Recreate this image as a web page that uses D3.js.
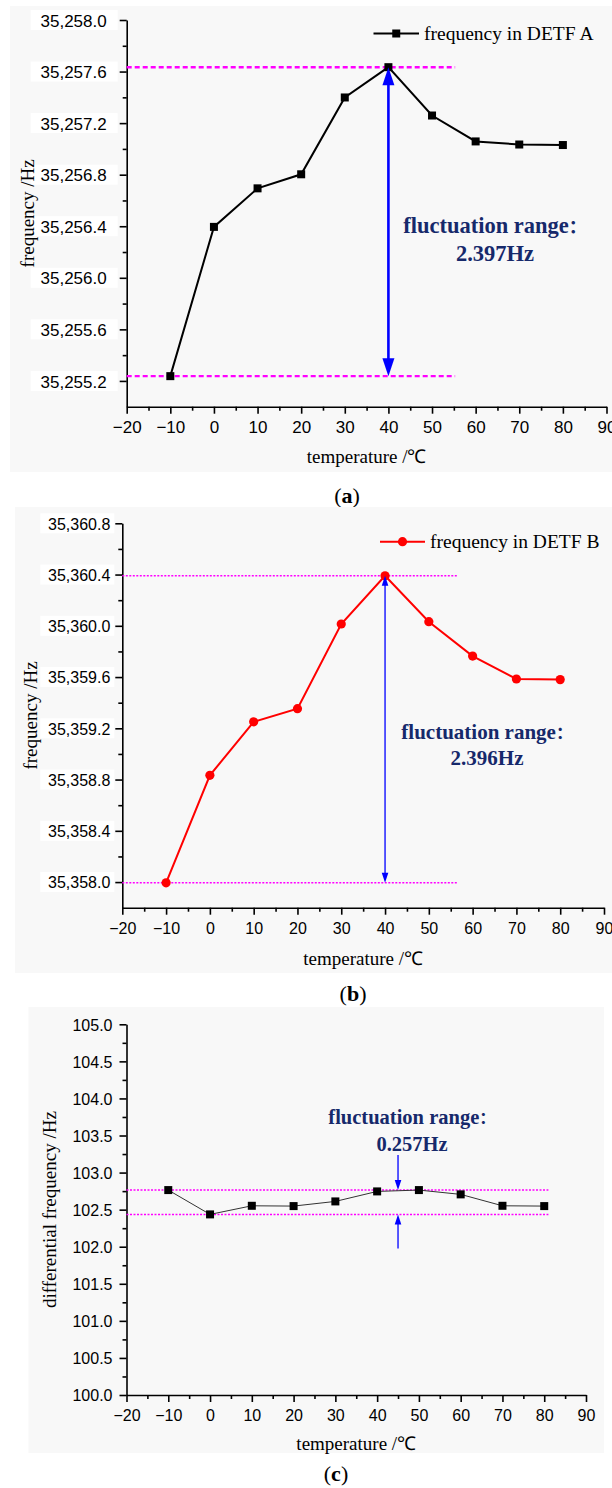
<!DOCTYPE html>
<html><head><meta charset="utf-8">
<script src="https://cdn.jsdelivr.net/npm/d3@7"></script>
<style>body{margin:0;background:#fff} svg{display:block}</style>
</head><body>
<svg id="chart" width="612" height="1488"></svg>
<script>
// ---------- data ----------
const temps = [-10, 0, 10, 20, 30, 40, 50, 60, 70, 80];
const freqA = [35255.237, 35256.395, 35256.694, 35256.803, 35257.399, 35257.634, 35257.259, 35257.058, 35257.034, 35257.030];
const freqB = [35357.994, 35358.833, 35359.251, 35359.353, 35360.014, 35360.390, 35360.032, 35359.764, 35359.585, 35359.580];
const diffFreq = [102.764, 102.436, 102.552, 102.548, 102.611, 102.746, 102.764, 102.706, 102.552, 102.548];
const xTicks = [-20, -10, 0, 10, 20, 30, 40, 50, 60, 70, 80, 90];
const yTicksA = [35255.2, 35255.6, 35256.0, 35256.4, 35256.8, 35257.2, 35257.6, 35258.0];
const yTicksB = [35358.0, 35358.4, 35358.8, 35359.2, 35359.6, 35360.0, 35360.4, 35360.8];
const yTicksC = [100.0, 100.5, 101.0, 101.5, 102.0, 102.5, 103.0, 103.5, 104.0, 104.5, 105.0];
const rangeLinesA = [35255.237, 35257.634];
const rangeLinesB = [35357.994, 35360.390];
const rangeLinesC = [102.436, 102.764];
const noteA = ["fluctuation range：", "2.397Hz"];
const noteB = ["fluctuation range：", "2.396Hz"];
const noteC = ["fluctuation range：", "0.257Hz"];
const legendA = "frequency in DETF A";
const legendB = "frequency in DETF B";
const xTitle = "temperature /℃";
const yTitleAB = "frequency /Hz";
const yTitleC = "differential frequency /Hz";
const captions = ["a", "b", "c"];

// ---------- drawing ----------
const svg = d3.select("#chart");
const SERIF = "'Liberation Serif','Times New Roman',serif";
const SANS = "'Liberation Sans',Arial,sans-serif";
const CJK = "'Noto Sans CJK SC','Liberation Serif',serif";
const NAVY = "#16296b";

function minorOf(arr) { return arr.slice(0, -1).map((v, i) => (v + arr[i + 1]) / 2); }

function panel(cfg) {
  const g = svg.append("g");
  g.append("rect").attr("x", cfg.bg[0]).attr("y", cfg.bg[1])
    .attr("width", cfg.bg[2]).attr("height", cfg.bg[3]).attr("fill", "#f8f8f8");

  const x = d3.scaleLinear().domain([-20, 90]).range(cfg.xr);
  const y = d3.scaleLinear().domain(cfg.yd).range(cfg.yr);
  const x0 = cfg.xr[0], y0 = cfg.yr[0];

  // white label boxes behind y tick labels
  if (cfg.labelBox) {
    g.selectAll("rect.lb").data(cfg.yTicks).join("rect")
      .attr("x", x0 - cfg.labelBox[0]).attr("width", cfg.labelBox[1])
      .attr("y", d => y(d) - 10).attr("height", 20).attr("fill", "#fff");
  }

  // axes
  const ax = g.append("g").attr("transform", `translate(0,${y0})`)
    .call(d3.axisBottom(x).tickValues(xTicks).tickSize(7).tickSizeOuter(0).tickFormat(d3.format("d")));
  g.append("g").attr("transform", `translate(0,${y0})`)
    .call(d3.axisBottom(x).tickValues(minorOf(xTicks)).tickSize(4).tickSizeOuter(0).tickFormat(""))
    .call(s => s.select(".domain").remove());
  ax.selectAll("text").attr("y", cfg.xLabOff).attr("dy", "0.36em");

  const ay = g.append("g").attr("transform", `translate(${x0},0)`)
    .call(d3.axisLeft(y).tickValues(cfg.yTicks).tickSize(7).tickSizeOuter(0).tickPadding(cfg.yPad).tickFormat(cfg.fmt));
  g.append("g").attr("transform", `translate(${x0},0)`)
    .call(d3.axisLeft(y).tickValues(minorOf(cfg.yTicks)).tickSize(4).tickSizeOuter(0).tickFormat(""))
    .call(s => s.select(".domain").remove());
  ay.selectAll("text").attr("dy", "0.36em");

  g.selectAll(".domain, .tick line").attr("stroke", "#000").attr("stroke-width", 1.6);
  g.selectAll(".tick text").attr("font-family", SANS).attr("font-size", cfg.tickFs).attr("fill", "#000");

  // range lines
  g.selectAll("line.rng").data(cfg.rng).join("line")
    .attr("x1", x(-20)).attr("x2", x(cfg.rngEnd))
    .attr("y1", d => y(d)).attr("y2", d => y(d))
    .attr("stroke", "#ff00ff").attr("stroke-width", cfg.rngW).attr("stroke-dasharray", cfg.rngDash);

  // series line
  const pts = temps.map((t, i) => [t, cfg.vals[i]]);
  g.append("path").datum(pts)
    .attr("d", d3.line().x(d => x(d[0])).y(d => y(d[1])))
    .attr("fill", "none").attr("stroke", cfg.color).attr("stroke-width", cfg.lineW);

  // markers
  if (cfg.marker === "circle") {
    g.selectAll("circle.pt").data(pts).join("circle")
      .attr("cx", d => x(d[0])).attr("cy", d => y(d[1])).attr("r", 4.6).attr("fill", cfg.mColor);
  } else {
    g.selectAll("rect.pt").data(pts).join("rect")
      .attr("x", d => x(d[0]) - 4).attr("y", d => y(d[1]) - 4)
      .attr("width", 8).attr("height", 8).attr("fill", cfg.mColor);
  }

  // arrows
  function head(px, py, dir, len, hw) { // dir: +1 pointing down, -1 pointing up
    return `M${px},${py} L${px - hw},${py - dir * len} L${px + hw},${py - dir * len} Z`;
  }
  cfg.arrows.forEach(a => {
    const ax_ = x(a.x);
    const yTip = y(a.tip);
    const yFrom = a.fromVal !== undefined ? y(a.fromVal) : yTip + a.fromOff;
    const dir = yTip > yFrom ? 1 : -1;
    g.append("line").attr("x1", ax_).attr("x2", ax_)
      .attr("y1", yFrom - (a.headFrom ? -dir * a.len * 0.6 : 0)).attr("y2", yTip - dir * a.len * 0.6)
      .attr("stroke", "#0000ff").attr("stroke-width", a.w);
    g.append("path").attr("d", head(ax_, yTip, dir, a.len, a.hw)).attr("fill", "#0000ff");
    if (a.headFrom) g.append("path").attr("d", head(ax_, yFrom, -dir, a.len, a.hw)).attr("fill", "#0000ff");
  });

  // annotation
  cfg.note.forEach((t, i) => {
    const tx = g.append("text").attr("x", cfg.noteX).attr("y", cfg.noteY[i]).attr("dy", "0.35em")
      .attr("text-anchor", "middle").attr("font-family", SERIF).attr("font-weight", "bold")
      .attr("font-size", cfg.noteFs).attr("fill", NAVY);
    const parts = t.split("：");
    tx.append("tspan").text(parts[0]);
    if (parts.length > 1) {
      tx.append("tspan").attr("font-family", CJK).attr("font-weight", "bold")
        .attr("font-size", cfg.noteFs * 0.8).text("：");
      if (parts[1]) tx.append("tspan").text(parts[1]);
    }
  });

  // legend
  if (cfg.legend) {
    const L = cfg.legend;
    g.append("line").attr("x1", L.x1).attr("x2", L.x2).attr("y1", L.y).attr("y2", L.y)
      .attr("stroke", cfg.color).attr("stroke-width", 2);
    const mx = (L.x1 + L.x2) / 2;
    if (cfg.marker === "circle") g.append("circle").attr("cx", mx).attr("cy", L.y).attr("r", 4.6).attr("fill", cfg.mColor);
    else g.append("rect").attr("x", mx - 4).attr("y", L.y - 4).attr("width", 8).attr("height", 8).attr("fill", cfg.mColor);
    g.append("text").attr("x", L.x2 + 5).attr("y", L.y).attr("dy", "0.32em")
      .attr("font-family", SERIF).attr("font-size", 19.5).attr("fill", "#000").text(L.text);
  }

  // axis titles
  g.append("text").attr("x", (cfg.xr[0] + cfg.xr[1]) / 2).attr("y", cfg.xTitleY).attr("dy", "0.35em")
    .attr("text-anchor", "middle").attr("font-family", SERIF).attr("font-size", 19).attr("fill", "#000").text(xTitle);
  g.append("text").attr("transform", `translate(${cfg.yTitleX},${(cfg.yr[0] + cfg.yr[1]) / 2}) rotate(-90)`)
    .attr("dy", "0.35em").attr("text-anchor", "middle").attr("font-family", SERIF)
    .attr("font-size", 19).attr("fill", "#000").text(cfg.yTitle);

  // caption
  const cap = g.append("text").attr("x", cfg.capX).attr("y", cfg.capY).attr("dy", "0.35em")
    .attr("text-anchor", "middle").attr("font-family", SERIF).attr("font-size", 22).attr("fill", "#000");
  cap.append("tspan").text("(");
  cap.append("tspan").attr("font-weight", "bold").text(cfg.cap);
  cap.append("tspan").text(")");
}

const fmtBig = d3.format(",.1f");
const fmtSmall = d3.format(".1f");

panel({
  bg: [10, 6, 602, 466], xr: [126.7, 606.5], yd: [35255.0, 35258.0], yr: [406.7, 20],
  yTicks: yTicksA, fmt: fmtBig, tickFs: 17, yPad: 13, xLabOff: 20, labelBox: [96, 87],
  vals: freqA, color: "#000", lineW: 2, marker: "square", mColor: "#000",
  rng: rangeLinesA, rngEnd: 55.3, rngW: 2.4, rngDash: "5,3",
  arrows: [{x: 40, tip: rangeLinesA[1], fromVal: rangeLinesA[0], headFrom: true, len: 18, hw: 6, w: 2.6}],
  note: noteA, noteX: 495, noteY: [225, 253.5], noteFs: 22.5,
  legend: {x1: 373.5, x2: 419, y: 33.5, text: legendA},
  xTitleY: 456.7, yTitleX: 27, yTitle: yTitleAB, capX: 347, capY: 495, cap: captions[0]
});

panel({
  bg: [15, 507, 597, 466], xr: [122.3, 604], yd: [35357.8, 35360.8], yr: [907.7, 523.3],
  yTicks: yTicksB, fmt: fmtBig, tickFs: 16, yPad: 5, xLabOff: 21, labelBox: [82, 74],
  vals: freqB, color: "#ff0000", lineW: 2, marker: "circle", mColor: "#ff0000",
  rng: rangeLinesB, rngEnd: 56.6, rngW: 1.5, rngDash: "2,1.5",
  arrows: [{x: 40, tip: rangeLinesB[1], fromVal: rangeLinesB[0], headFrom: true, len: 10, hw: 3.3, w: 1.3}],
  note: noteB, noteX: 487, noteY: [731.7, 757.3], noteFs: 21,
  legend: {x1: 380, x2: 425, y: 541.7, text: legendB},
  xTitleY: 958, yTitleX: 30, yTitle: yTitleAB, capX: 353, capY: 993, cap: captions[1]
});

panel({
  bg: [28.5, 1007, 575.5, 446], xr: [126.5, 586], yd: [100, 105], yr: [1395, 1024.3],
  yTicks: yTicksC, fmt: fmtSmall, tickFs: 16, yPad: 7, xLabOff: 20, labelBox: null,
  vals: diffFreq, color: "#333", lineW: 1, marker: "square", mColor: "#000",
  rng: rangeLinesC, rngEnd: 81, rngW: 1.5, rngDash: "2,1.5",
  arrows: [
    {x: 45, tip: rangeLinesC[1], fromOff: -35, headFrom: false, len: 10, hw: 3.3, w: 1.3},
    {x: 45, tip: rangeLinesC[0], fromOff: 34, headFrom: false, len: 10, hw: 3.3, w: 1.3}
  ],
  note: noteC, noteX: 412, noteY: [1116.7, 1144], noteFs: 20.5,
  legend: null,
  xTitleY: 1443.3, yTitleX: 49, yTitle: yTitleC, capX: 336, capY: 1473, cap: captions[2]
});
</script>
</body></html>
